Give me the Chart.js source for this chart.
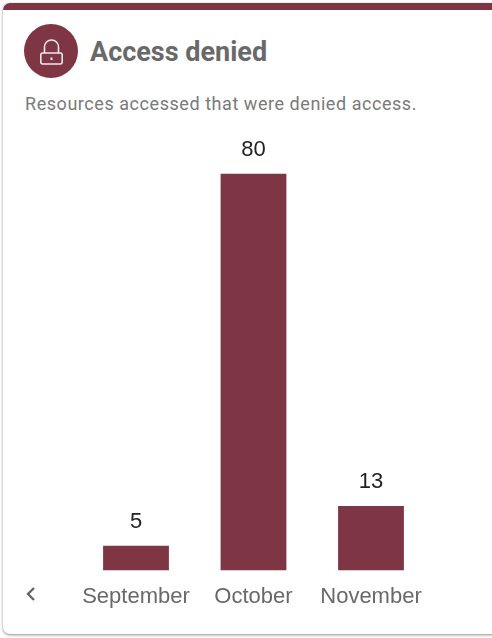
<!DOCTYPE html>
<html><head><meta charset="utf-8">
<script src="https://cdn.jsdelivr.net/npm/chart.js@4"></script>
<style>
html,body{margin:0;padding:0;background:#fff;width:492px;height:638px;overflow:hidden}
#card{position:absolute;left:3px;top:3px;width:520px;height:631px;background:#fff;border-radius:7px;box-shadow:0 1px 3px rgba(0,0,0,.45);overflow:hidden}
#band{position:absolute;left:0;top:0;right:0;height:7px;background:#7f3644}
#circle{position:absolute;left:24px;top:24px;width:54px;height:54px;border-radius:50%;background:#7f3644}
#circle svg{position:absolute;left:15px;top:14px}
#title{position:absolute;left:90px;top:37px;font:700 27px/30px Roboto,sans-serif;color:#696969;white-space:nowrap}
#sub{position:absolute;left:25px;top:92px;font:400 18px/24px Roboto,sans-serif;letter-spacing:.55px;color:#7a7a7a;white-space:nowrap}
#back{position:absolute;left:24px;top:585px}
#wrap{position:absolute;left:0;top:130px;width:492px;height:494px}
</style></head><body>
<div id="card"><div id="band"></div></div>
<div id="circle"><svg width="25" height="27" viewBox="0 0 25 27" fill="none" stroke="#f3e6e8" stroke-width="1.6"><rect x="1.8" y="15" width="21.4" height="11" rx="2"/><path d="M5.5 15V9a7 7 0 0 1 14 0v6"/><path d="M12.5 19.5v2.5" stroke-width="2"/></svg></div>
<div id="title">Access denied</div>
<div id="sub">Resources accessed that were denied access.</div>
<svg id="back" width="14" height="18" viewBox="0 0 14 18" fill="none" stroke="#666" stroke-width="2.4"><path d="M10 3L4 9l6 6"/></svg>
<div id="wrap"><canvas id="c" width="492" height="494"></canvas></div>
<script>
const categories = ["September", "October", "November"];
const deniedCounts = [5, 80, 13];
const yMax = 80;
const barColor = "#7f3644";
const valueLabels = {
  id: "valueLabels",
  afterDatasetsDraw(chart) {
    const ctx = chart.ctx;
    ctx.save();
    ctx.font = "22px 'Liberation Sans', Arial, sans-serif";
    ctx.fillStyle = "#222";
    ctx.textAlign = "center";
    ctx.textBaseline = "alphabetic";
    chart.getDatasetMeta(0).data.forEach((bar, i) => {
      ctx.fillText(String(deniedCounts[i]), bar.x, bar.y - 18);
    });
    ctx.restore();
  }
};
new Chart(document.getElementById("c"), {
  type: "bar",
  data: { labels: categories, datasets: [{ data: deniedCounts, backgroundColor: barColor, borderWidth: 0, barPercentage: 0.56, categoryPercentage: 1 }] },
  options: {
    responsive: false, animation: false,
    layout: { padding: { left: 77.25, right: 62.25, top: 43.5, bottom: 0 } },
    plugins: { legend: { display: false }, tooltip: { enabled: false } },
    scales: {
      x: { grid: { display: false, drawTicks: false }, border: { display: false },
           ticks: { color: "#696969", maxRotation: 0, autoSkip: false, padding: 13.5, font: { family: "'Liberation Sans', Arial, sans-serif", size: 22 } } },
      y: { display: false, min: 0, max: yMax }
    }
  },
  plugins: [valueLabels]
});
</script>
</body></html>
